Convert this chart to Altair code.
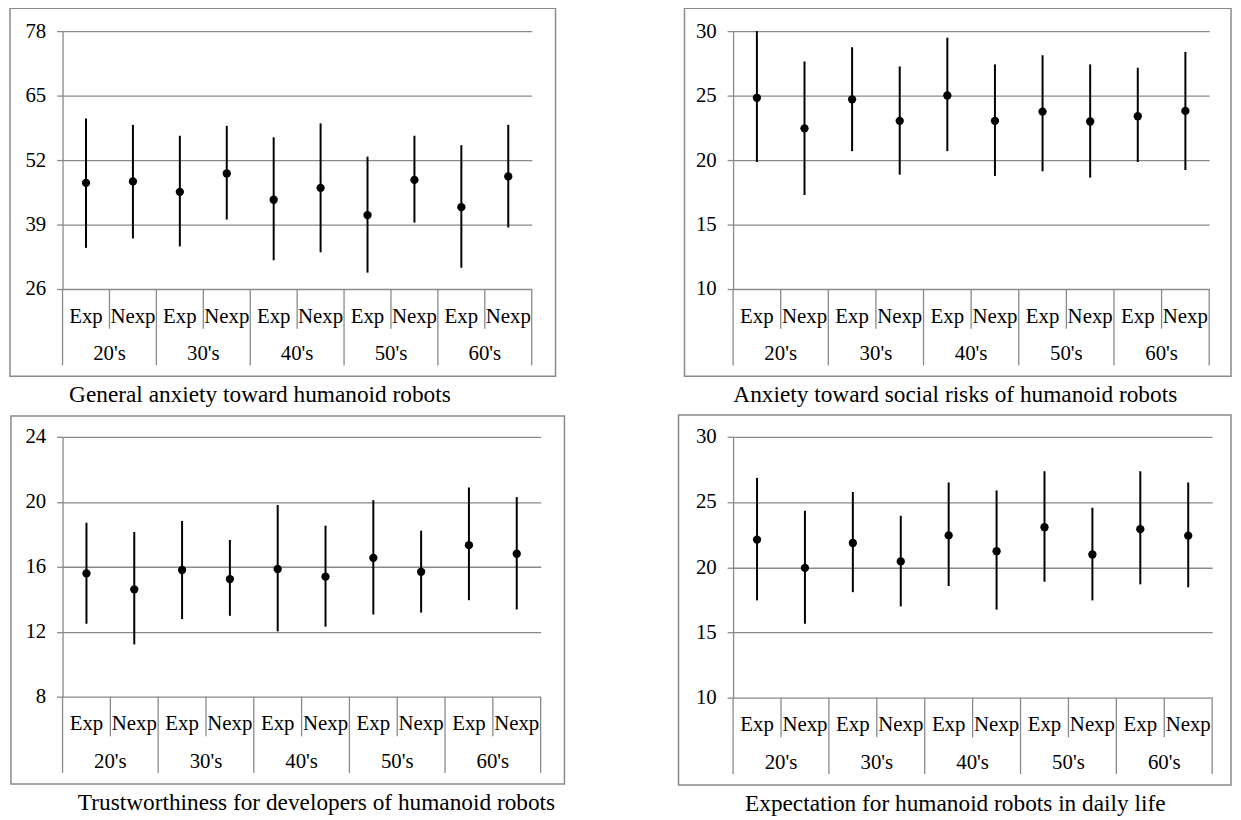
import altair as alt
import pandas as pd

FONT = "Liberation Serif"
GRAY = "#8a8a8a"
LBL = 21
CAP = 23.5

ages = ["20's", "30's", "40's", "50's", "60's"]
groups = ["Exp", "Nexp"]

# Panel 1: General anxiety
p1_title = "General anxiety toward humanoid robots"
p1_ticks = [26, 39, 52, 65, 78]
p1_mean = [47.4, 47.7, 45.6, 49.3, 44.0, 46.4, 40.9, 48.0, 42.5, 48.7]
p1_low = [34.3, 36.2, 34.6, 40.0, 31.8, 33.4, 29.3, 39.4, 30.3, 38.4]
p1_high = [60.4, 59.1, 56.9, 58.9, 56.6, 59.4, 52.7, 56.9, 55.0, 59.1]

# Panel 2: Anxiety toward social risks
p2_title = "Anxiety toward social risks of humanoid robots"
p2_ticks = [10, 15, 20, 25, 30]
p2_mean = [24.83, 22.46, 24.71, 23.04, 25.01, 23.04, 23.76, 22.99, 23.40, 23.81]
p2_low = [19.85, 17.29, 20.69, 18.87, 20.69, 18.77, 19.13, 18.64, 19.85, 19.23]
p2_high = [30.0, 27.65, 28.75, 27.26, 29.49, 27.42, 28.13, 27.42, 27.16, 28.39]

# Panel 3: Trustworthiness
p3_title = "Trustworthiness for developers of humanoid robots"
p3_ticks = [8, 12, 16, 20, 24]
p3_mean = [15.59, 14.61, 15.80, 15.24, 15.86, 15.39, 16.55, 15.69, 17.33, 16.80]
p3_low = [12.49, 11.22, 12.78, 12.98, 12.02, 12.31, 13.06, 13.18, 13.94, 13.37]
p3_high = [18.71, 18.14, 18.82, 17.65, 19.80, 18.53, 20.10, 18.22, 20.88, 20.29]

# Panel 4: Expectation
p4_title = "Expectation for humanoid robots in daily life"
p4_ticks = [10, 15, 20, 25, 30]
p4_mean = [22.12, 19.95, 21.86, 20.45, 22.44, 21.23, 23.07, 20.98, 22.92, 22.42]
p4_low = [17.46, 15.67, 18.09, 17.00, 18.56, 16.75, 18.89, 17.46, 18.69, 18.46]
p4_high = [26.85, 24.33, 25.77, 23.95, 26.50, 25.89, 27.36, 24.56, 27.36, 26.50]


def panel(title, ticks, means, lows, highs, w, h, frame, cap_x):
    n = len(ages) * len(groups)
    df = pd.DataFrame({
        "pos": [i + 0.5 for i in range(n)],
        "sub": [groups[i % 2] for i in range(n)],
        "mean": means,
        "lo": lows,
        "hi": highs,
    })
    xs = alt.Scale(domain=[0, n], nice=False, zero=False)
    ys = alt.Scale(domain=[ticks[0], ticks[-1]], nice=False, zero=False)
    yaxis = alt.Axis(values=ticks, grid=True, gridColor=GRAY, gridWidth=1.3,
                     domainColor=GRAY, domainWidth=1.3, tickColor=GRAY,
                     tickWidth=1.3, tickSize=6, labelFont=FONT,
                     labelFontSize=LBL, labelColor="black", labelPadding=11,
                     title=None)

    grid = alt.Chart(pd.DataFrame({"v": ticks})).mark_rule(opacity=0).encode(
        y=alt.Y("v:Q", scale=ys, axis=yaxis))

    bars = alt.Chart(df).mark_rule(color="black", strokeWidth=2).encode(
        x=alt.X("pos:Q", scale=xs, axis=None),
        y=alt.Y("lo:Q", scale=ys),
        y2="hi:Q")
    pts = alt.Chart(df).mark_circle(color="black", opacity=1, size=70).encode(
        x=alt.X("pos:Q", scale=xs, axis=None),
        y=alt.Y("mean:Q", scale=ys))

    seps = pd.DataFrame({"b": list(range(n + 1))})
    major = alt.Chart(seps[seps.b % 2 == 0]).mark_rule(
        color=GRAY, strokeWidth=1.3).encode(
        x=alt.X("b:Q", scale=xs, axis=None),
        y=alt.value(h), y2=alt.value(h + 77))
    minor = alt.Chart(seps[seps.b % 2 == 1]).mark_rule(
        color=GRAY, strokeWidth=1.3).encode(
        x=alt.X("b:Q", scale=xs, axis=None),
        y=alt.value(h), y2=alt.value(h + 40))

    sublab = alt.Chart(df).mark_text(font=FONT, fontSize=LBL, color="black",
                                     baseline="middle").encode(
        x=alt.X("pos:Q", scale=xs, axis=None),
        y=alt.value(h + 28), text="sub:N")
    agedf = pd.DataFrame({"apos": [2 * g + 1 for g in range(len(ages))],
                          "age": ages})
    agelab = alt.Chart(agedf).mark_text(font=FONT, fontSize=LBL, color="black",
                                        baseline="middle").encode(
        x=alt.X("apos:Q", scale=xs, axis=None),
        y=alt.value(h + 66), text="age:N")

    one = pd.DataFrame({"k": [0]})
    fl, ft, fr, fb = frame
    box = alt.Chart(one).mark_rect(fillOpacity=0, stroke=GRAY,
                                   strokeWidth=1.5).encode(
        x=alt.value(fl), x2=alt.value(w + fr),
        y=alt.value(ft), y2=alt.value(h + fb))
    cap = alt.Chart(one).mark_text(font=FONT, fontSize=CAP, color="black",
                                   baseline="middle").encode(
        x=alt.value(cap_x), y=alt.value(h + 107), text=alt.value(title))

    return alt.layer(box, grid, major, minor, bars, pts, sublab, agelab,
                     cap).properties(width=w, height=h)


c1 = panel(p1_title, p1_ticks, p1_mean, p1_low, p1_high, 473, 260,
           (-53, -23, 24, 88), 199)
c2 = panel(p2_title, p2_ticks, p2_mean, p2_low, p2_high, 480, 260,
           (-49, -23, 22, 88), 224)
c3 = panel(p3_title, p3_ticks, p3_mean, p3_low, p3_high, 482, 262,
           (-52, -21, 24, 88), 256)
c4 = panel(p4_title, p4_ticks, p4_mean, p4_low, p4_high, 483, 263,
           (-55, -22, 19, 88), 224)

chart = alt.concat(c1, c2, c3, c4, columns=2, bounds="flush",
                   spacing={"row": 149, "column": 194}).properties(
    padding={"left": 0, "top": -5, "right": 0, "bottom": 0}
).configure_view(stroke="transparent")

chart.save("out.html", embed_options={"renderer": "svg", "actions": False})
